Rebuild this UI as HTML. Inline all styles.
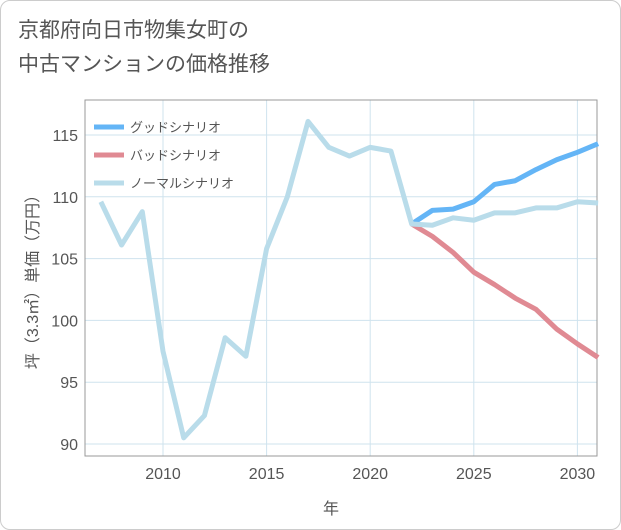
<!DOCTYPE html>
<html><head><meta charset="utf-8"><style>
body{margin:0;background:#fff;}
#wrap{width:621px;height:530px;position:relative;background:#fff;font-family:"Liberation Sans","Noto Sans CJK JP",sans-serif;}
.frame{position:absolute;left:0;top:0;width:619px;height:528px;border:1px solid #ccc;border-radius:10px;}
.title{position:absolute;left:18px;top:14px;font-size:21px;line-height:34px;color:#555;}
</style></head><body>
<div id="wrap">
<div class="frame"></div>
<div class="title">京都府向日市物集女町の<br>中古マンションの価格推移</div>
<svg id="svg" width="621" height="530" style="position:absolute;left:0;top:0"></svg>
</div>
<script>
const years=[2007,2008,2009,2010,2011,2012,2013,2014,2015,2016,2017,2018,2019,2020,2021,2022,2023,2024,2025,2026,2027,2028,2029,2030,2031];
const normal=[109.6,106.1,108.8,97.5,90.5,92.3,98.6,97.1,105.8,110,116.1,114,113.3,114,113.7,107.8,107.7,108.3,108.1,108.7,108.7,109.1,109.1,109.6,109.5];
const futureYears=[2022,2023,2024,2025,2026,2027,2028,2029,2030,2031];
const good=[107.8,108.9,109,109.6,111,111.3,112.2,113,113.6,114.3];
const bad=[107.8,106.8,105.5,103.9,102.9,101.8,100.9,99.3,98.1,97];
const xTicks=[2010,2015,2020,2025,2030];
const yTicks=[90,95,100,105,110,115];
const legendLabels=["グッドシナリオ","バッドシナリオ","ノーマルシナリオ"];
const colors=["#64b5f6","#e08a93","#b9dcea"];
const L=85,R=597,T=100,B=456;
const x=v=>163+(v-2010)*20.72;
const y=v=>444-(v-90)*12.36;
const svg=document.getElementById('svg');
const NS='http://www.w3.org/2000/svg';
function mk(t,a){const e=document.createElementNS(NS,t);for(const k in a)e.setAttribute(k,a[k]);svg.appendChild(e);return e;}
xTicks.forEach(t=>{const g=mk('line',{x1:x(t),x2:x(t),y1:T,y2:B,stroke:'#cfe3ee','stroke-width':1});


const tx=mk('text',{x:x(t),y:479,'text-anchor':'middle','font-size':16,fill:'#555'});tx.textContent=t;

});
yTicks.forEach(t=>{const g=mk('line',{x1:L,x2:R,y1:y(t),y2:y(t),stroke:'#cfe3ee','stroke-width':1});


const tx=mk('text',{x:78,y:y(t)+6,'text-anchor':'end','font-size':16,fill:'#555'});tx.textContent=t;

});
const ax=mk('rect',{x:L,y:T,width:R-L,height:B-T,fill:'none',stroke:'#999','stroke-width':1});


const xt=mk('text',{x:331,y:514,'text-anchor':'middle','font-size':16,fill:'#555'});xt.textContent='年';


const yt=mk('text',{x:0,y:0,'text-anchor':'middle','font-size':16,fill:'#555',transform:'translate(38,278) rotate(-90)'});yt.textContent='坪（3.3㎡）単価（万円）';


function line(xs,vs,c,name){const p=mk('polyline',{points:xs.map((a,i)=>x(a)+','+y(vs[i])).join(' '),fill:'none',stroke:c,'stroke-width':5,'stroke-linejoin':'round'});

}
line(futureYears,good,colors[0],'good-scenario-line');
line(futureYears,bad,colors[1],'bad-scenario-line');
line(years,normal,colors[2],'normal-scenario-line');
legendLabels.forEach((l,i)=>{const yy=127+i*28;
const s=mk('line',{x1:94,x2:124,y1:yy,y2:yy,stroke:colors[i],'stroke-width':5});


const t=mk('text',{x:130,y:yy+5,'font-size':13,fill:'#555'});t.textContent=l;

});
</script>
</body></html>
